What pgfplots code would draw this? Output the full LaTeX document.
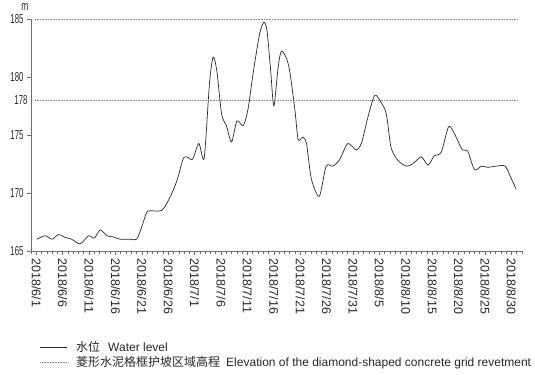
\documentclass[border=0pt]{standalone}
\usepackage{fontspec}
\usepackage{graphicx}
\usepackage{pgfplots}
\pgfplotsset{compat=1.18}
\setmainfont{Liberation Sans}
\newfontfamily\cjk{Noto Sans CJK SC}
\definecolor{axisgray}{RGB}{110,110,110}
\definecolor{dotgray}{RGB}{130,130,130}
\definecolor{curve}{RGB}{40,40,40}
\begin{document}
\begin{tikzpicture}
\begin{axis}[
  name=ax,
  width=491pt, height=232pt, scale only axis,
  xmin=-1, xmax=92, ymin=165, ymax=185,
  axis lines=left,
  axis line style={-, draw=axisgray, line width=0.6pt},
  xtick={0,5,...,90},
  xticklabels={2018/6/1,2018/6/6,2018/6/11,2018/6/16,2018/6/21,2018/6/26,2018/7/1,2018/7/6,2018/7/11,2018/7/16,2018/7/21,2018/7/26,2018/7/31,2018/8/5,2018/8/10,2018/8/15,2018/8/20,2018/8/25,2018/8/30},
  minor xtick={-1,0,...,92},
  ytick={165,170,175,180,185},
  extra y ticks={178},
  extra y tick style={major tick length=0pt},
  tick align=outside,
  major tick length=4pt, minor tick length=3pt,
  tick style={draw=axisgray, line width=0.6pt},
  x tick label style={rotate=-90, anchor=west, font=\fontsize{12.5}{14}\selectfont, text=black!85},
  y tick label style={font=\fontsize{13}{14}\selectfont, text=black!85},
  yticklabel={\scalebox{0.6}[1]{\pgfmathprintnumber{\tick}}},
  /pgf/number format/assume math mode=true,
  clip=false,
  legend style={at={(axis description cs:0.018,-0.383)}, anchor=north west, draw=none, fill=none, inner sep=0pt, row sep=0pt, font=\fontsize{12}{12.5}\selectfont, nodes={inner sep=1.5pt}, text=black!85},
  legend cell align=left,
  legend image code/.code={\draw[#1] (0pt,0pt) -- (27pt,0pt); \path (34pt,0pt);},
]
\addplot[curve, line width=0.7pt, smooth, tension=0.45] coordinates {
(0.1,166.0) (1.7,166.3) (3.0,166.0) (4.2,166.4) (5.5,166.15) (6.7,166.0)
(8.3,165.6) (9.9,166.3) (11.0,166.1) (12.1,166.8) (13.4,166.3) (14.6,166.2)
(15.9,166.0) (17.8,166.0) (19.0,166.0) (20.0,167.1) (20.9,168.3) (21.6,168.45)
(23.8,168.5) (25.3,169.6) (26.6,171.0) (27.8,172.9) (28.5,173.1) (29.6,172.9)
(30.8,174.25) (31.8,173.0) (32.8,179.4) (33.5,181.7) (34.2,180.5) (35.1,176.8)
(36.0,175.8) (37.0,174.4) (38.0,176.2) (39.2,175.8) (40.1,177.2) (41.1,180.4)
(42.3,183.7) (43.1,184.7) (43.7,184.0) (44.4,180.5) (45.0,177.5) (45.8,180.8)
(46.4,182.2) (47.3,181.7) (48.0,180.5) (49.0,177.1) (49.6,174.6) (50.5,174.8)
(51.2,174.2) (52.1,171.2) (53.6,169.7) (54.9,172.3) (56.2,172.3) (57.5,172.9)
(59.0,174.25) (60.6,173.7) (61.6,174.3) (62.8,176.5) (64.1,178.4) (65.3,177.8)
(66.3,176.8) (67.2,173.9) (68.5,172.8) (70.1,172.3) (71.3,172.5) (72.9,173.1)
(74.2,172.4) (75.4,173.2) (76.7,173.5) (78.1,175.7) (79.2,175.1) (80.7,173.7)
(81.7,173.6) (83.0,172.0) (84.3,172.3) (85.5,172.2) (87.1,172.3) (88.8,172.3)
(89.9,171.3) (90.9,170.3)
};
\addlegendentry{{\cjk 水位}\hspace{8pt}Water level}
\addplot[dotgray, densely dotted, line width=0.6pt] coordinates {(-0.2,178) (91.2,178)};
\addlegendentry{{\cjk 菱形水泥格框护坡区域高程}\hspace{6pt}Elevation of the diamond-shaped concrete grid revetment}
\addplot[dotgray, densely dotted, line width=0.6pt, forget plot] coordinates {(-0.2,185) (91.2,185)};
\coordinate (O) at (rel axis cs:0,0);
\node[font=\fontsize{13}{14}\selectfont, text=black!85] at (rel axis cs:0,1) [xshift=-6pt, yshift=12pt] {\scalebox{0.65}[1]{m}};
\end{axis}
\path ([shift={(-31pt,-124pt)}]O) rectangle ++(535pt,374pt);
\end{tikzpicture}
\end{document}
